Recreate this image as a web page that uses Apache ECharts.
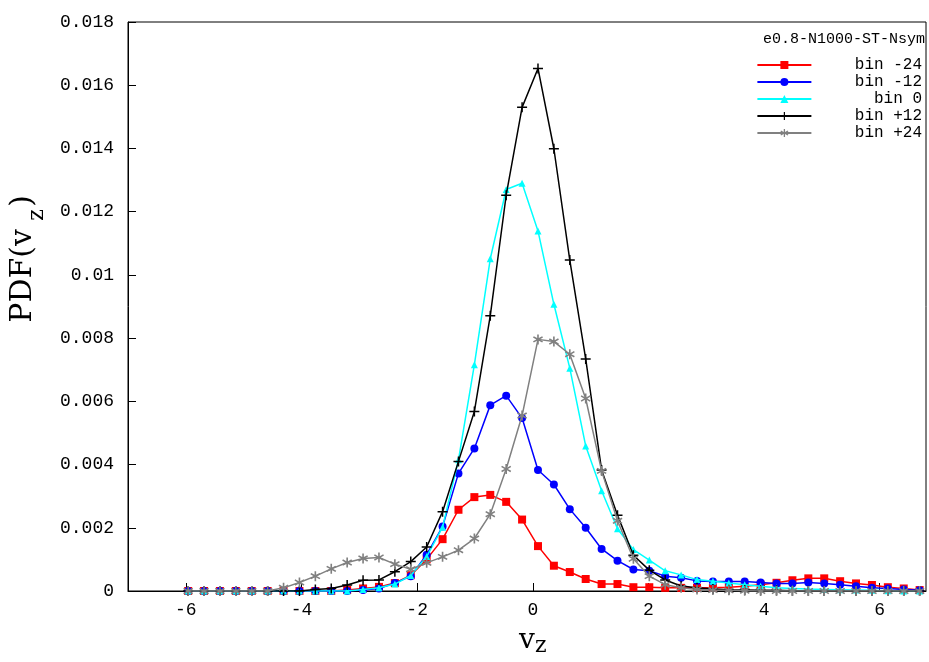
<!DOCTYPE html>
<html><head><meta charset="utf-8">
<script src="https://cdn.jsdelivr.net/npm/echarts@6/dist/echarts.min.js"></script>
<style>html,body{margin:0;background:#fff}#c{width:929px;height:662px}</style>
</head><body><div id="c"></div>
<script>
const xStart = -5.96, xStep = 0.275, nPts = 47;
const xValues = Array.from({length: nPts}, (_, i) => +(xStart + i * xStep).toFixed(3));
const seriesNames = ['bin -24', 'bin -12', 'bin 0', 'bin +12', 'bin +24'];
const binM24 = [0,0,0,0,0,0,0,0,0,0,0.00003,0.00008,0.00013,0.00025,0.0005,0.001,0.00164,0.00257,0.00297,0.00304,0.00282,0.00226,0.00142,0.0008,0.0006,0.00038,0.00022,0.00022,0.00012,0.00012,0.0001,0.0001,0.0001,0.0001,0.00012,0.00015,0.0002,0.00026,0.00034,0.0004,0.0004,0.00031,0.00024,0.00019,0.00012,0.00008,0.00003];
const binM12 = [0,0,0,0,0,0,0,0,0,0,0,0.00003,0.00008,0.00025,0.00047,0.00115,0.00204,0.00372,0.00451,0.00588,0.00618,0.00547,0.00383,0.00337,0.00259,0.002,0.00133,0.00096,0.00068,0.00064,0.00047,0.00042,0.00032,0.0003,0.0003,0.0003,0.00027,0.00024,0.00024,0.00027,0.00024,0.0002,0.00015,0.0001,0.00008,0.00005,0.00002];
const bin0 = [0,0,0,0,0,0,0,0,0,0,0,0.00005,0.0001,0.00022,0.00049,0.00109,0.00202,0.00415,0.00716,0.01051,0.0127,0.0129,0.01139,0.00907,0.00705,0.00459,0.00317,0.00197,0.00131,0.00098,0.00064,0.00051,0.00036,0.00031,0.00025,0.0002,0.00015,0.0001,0.00008,0.00006,0.00005,0.00004,0.00003,0.00002,0.00001,0,0];
const binP12 = [0,0,0,0,0,0,0,0,0.00005,0.00008,0.00019,0.00034,0.00035,0.00061,0.00093,0.00139,0.00251,0.0041,0.00568,0.00871,0.01252,0.0153,0.01653,0.01399,0.01047,0.00734,0.00383,0.0024,0.00113,0.00066,0.00035,0.00016,0.0001,0.00006,0.00004,0.00003,0.00002,0.00002,0.00001,0.00001,0,0,0,0,0,0,0];
const binP24 = [0,0,0,0,0,0,0.0001,0.00027,0.00047,0.0007,0.0009,0.00103,0.00106,0.00085,0.00069,0.00089,0.00108,0.00129,0.00166,0.00243,0.00386,0.00555,0.00796,0.00789,0.00749,0.00609,0.0038,0.00222,0.00102,0.00047,0.0002,0.0001,0.00005,0.00003,0.00002,0.00001,0,0,0,0,0,0,0,0,0,0,0];
const xTicks = [-6, -4, -2, 0, 2, 4, 6];
const legendTitle = 'e0.8-N1000-ST-Nsym';

const colors = ['#ff0000', '#0000ff', '#00ffff', '#000000', '#808080'];
const symbols = ['rect', 'circle', 'triangle',
  'path://M4,0h1.4v4h4v1.4h-4v4h-1.4v-4h-4v-1.4h4z',
  'path://M4.3,0h1.4v3.3l2.9-1.7l0.7,1.2l-2.9,1.7l2.9,1.7l-0.7,1.2l-2.9,-1.7v3.3h-1.4v-3.3l-2.9,1.7l-0.7,-1.2l2.9,-1.7l-2.9,-1.7l0.7,-1.2l2.9,1.7z'];
const sizes = [8, 8, 7, 10, 10];
const all = [binM24, binM12, bin0, binP12, binP24];
const mono = 'Liberation Mono';

const chart = echarts.init(document.getElementById('c'));
chart.setOption({
  animation: false,
  grid: {left: 128, right: 3, top: 22, bottom: 71, show: true, borderColor: '#000', borderWidth: 1},
  xAxis: {type: 'value', min: -7, max: 6.8,
    name: 'v', nameLocation: 'middle', nameGap: 36,
    nameTextStyle: {fontFamily: 'DejaVu Serif', fontSize: 28, color: '#000'},
    axisLine: {onZero: false, lineStyle: {color: '#000'}},
    axisTick: {inside: true, length: 8, lineStyle: {color: '#000'}, customValues: xTicks},
    axisLabel: {fontFamily: mono, fontSize: 18, color: '#000', margin: 10, customValues: xTicks},
    splitLine: {show: false}},
  yAxis: {type: 'value', min: 0, max: 0.018, interval: 0.002,
    axisLine: {show: true, onZero: false, lineStyle: {color: '#000'}},
    axisTick: {inside: true, length: 8, lineStyle: {color: '#000'}},
    axisLabel: {fontFamily: mono, fontSize: 18, color: '#000', margin: 14,
      formatter: v => v === 0 ? '0' : String(+v.toFixed(3))},
    splitLine: {show: false}},
  legend: {orient: 'vertical', right: 2, top: 52, itemWidth: 54, itemHeight: 10, itemGap: 1,
    textStyle: {fontFamily: mono, fontSize: 16, color: '#000'},
    formatter: n => n.padStart(11, ' '),
    data: seriesNames.map(n => ({name: n}))},
  graphic: [
    {type: 'text', right: 4, top: 32, style: {text: legendTitle, font: '15px "Liberation Mono"', fill: '#000'}},
    {type: 'group', left: 8, top: 195, children: [
      {type: 'text', rotation: Math.PI / 2, x: 0, y: 200, style: {text: 'PDF(v', font: '30px "DejaVu Serif"', fill: '#000', verticalAlign: 'top'}},
      {type: 'text', rotation: Math.PI / 2, x: 18, y: 98, style: {text: 'z', font: '22px "DejaVu Serif"', fill: '#000', verticalAlign: 'top'}},
      {type: 'text', rotation: Math.PI / 2, x: 0, y: 84, style: {text: ')', font: '30px "DejaVu Serif"', fill: '#000', verticalAlign: 'top'}}
    ]},
    {type: 'text', left: 535, top: 635, style: {text: 'z', font: '22px "DejaVu Serif"', fill: '#000'}}
  ],
  series: all.map((arr, k) => ({
    name: seriesNames[k], type: 'line', data: xValues.map((x, i) => [x, arr[i]]),
    symbol: symbols[k], symbolSize: sizes[k], showAllSymbol: true,
    lineStyle: {color: colors[k], width: 1.5}, itemStyle: {color: colors[k]}, z: 2 + k
  }))
});
</script></body></html>
